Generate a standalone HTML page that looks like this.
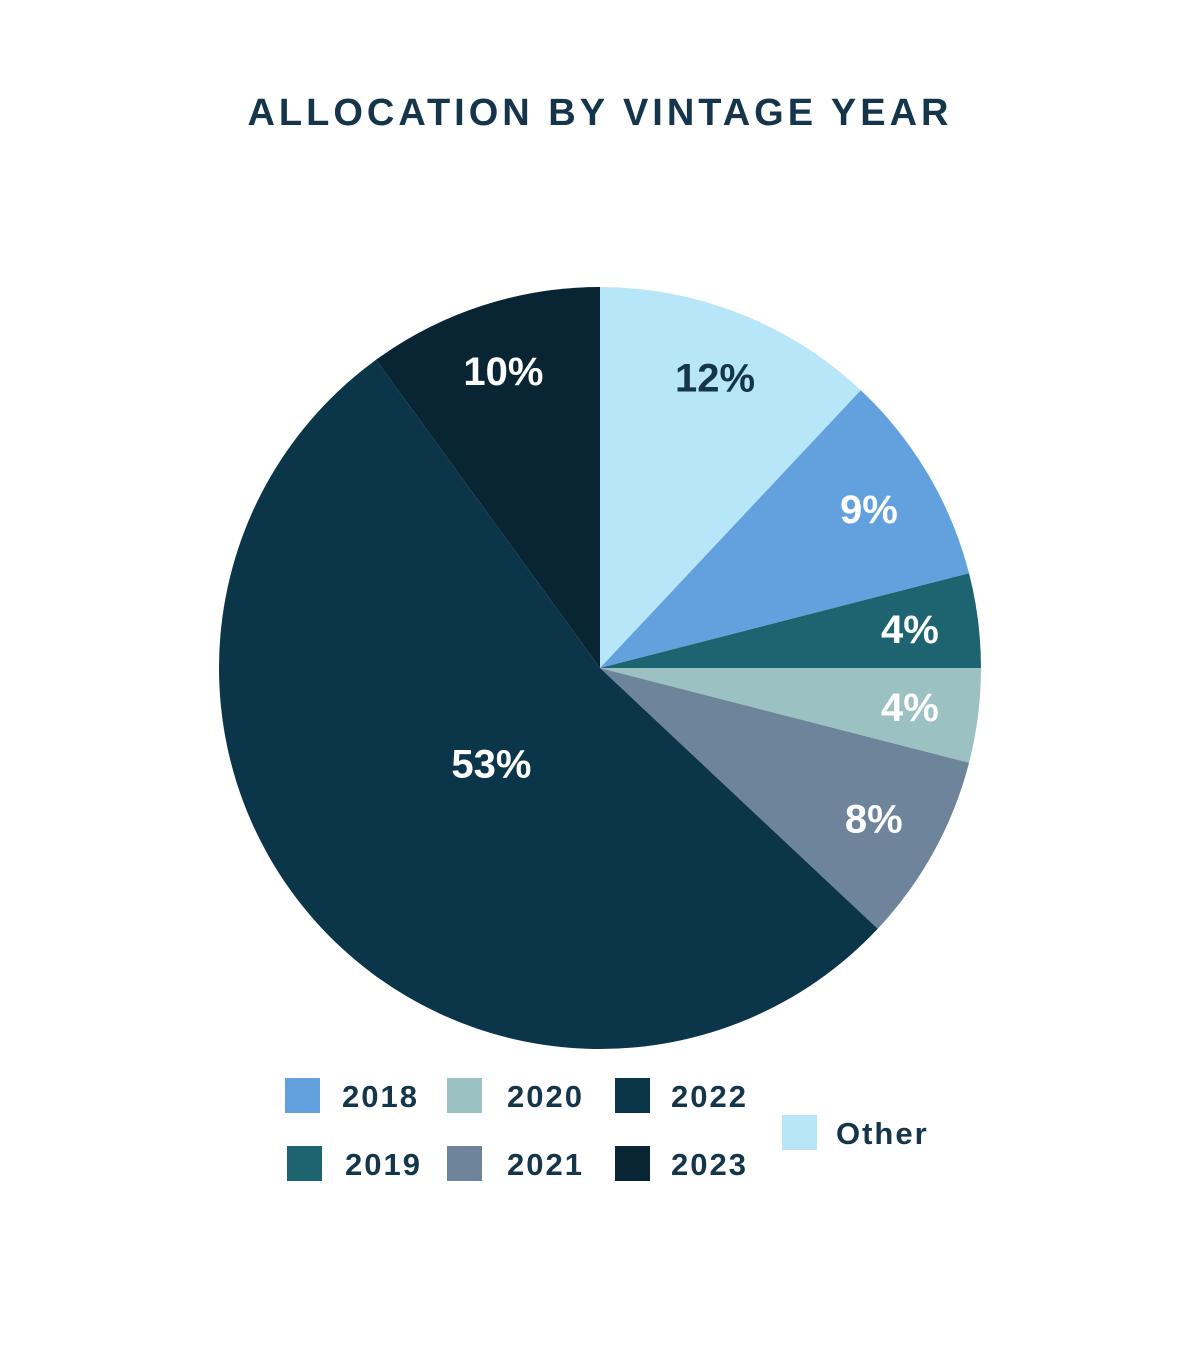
<!DOCTYPE html>
<html><head><meta charset="utf-8">
<style>
html,body{margin:0;padding:0;background:#fff;}
body{width:1200px;height:1350px;position:relative;overflow:hidden;font-family:"Liberation Sans",sans-serif;}
#title{position:absolute;left:0;top:92px;width:1200px;text-align:center;font-size:38px;font-weight:bold;letter-spacing:4px;color:#14354a;}
svg{position:absolute;left:0;top:0;}
</style></head>
<body>
<div id="title">ALLOCATION BY VINTAGE YEAR</div>
<svg id="chart" width="1200" height="1350"></svg>
<script>
const categories = ["Other","2018","2019","2020","2021","2022","2023"];
const values = [12, 9, 4, 4, 8, 53, 10];
const labels = ["12%","9%","4%","4%","8%","53%","10%"];
const colors = ["#b8e6f9","#62a1de","#1d6470","#9bc1c2","#6e849b","#0b364a","#092533"];
const labelColors = ["#14354a","#fff","#fff","#fff","#fff","#fff","#fff"];
const legendOrder = ["2018","2019","2020","2021","2022","2023","Other"];

const NS="http://www.w3.org/2000/svg";
const svg=document.getElementById('chart');
const cx=600, cy=668, R=381;
const total=values.reduce((a,b)=>a+b,0);
function pt(frac,r){const a=frac*2*Math.PI;return [cx+r*Math.sin(a), cy-r*Math.cos(a)];}
let acc=0;
values.forEach((v,i)=>{
  const s=acc/total, e=(acc+v)/total; acc+=v;
  const [x1,y1]=pt(s,R),[x2,y2]=pt(e,R);
  const large=(e-s)>0.5?1:0;
  const p=document.createElementNS(NS,'path');
  p.setAttribute('d',`M${cx},${cy} L${x1},${y1} A${R},${R} 0 ${large} 1 ${x2},${y2} Z`);
  p.setAttribute('fill',colors[i]);
  
  
  svg.appendChild(p);
  const m=(s+e)/2;
  const rr=(v/total)>0.4?R*0.38:R*0.82;
  const [lx,ly]=pt(m,rr);
  const t=document.createElementNS(NS,'text');
  t.setAttribute('x',lx);t.setAttribute('y',ly+14);
  t.setAttribute('text-anchor','middle');
  t.setAttribute('font-size','40');t.setAttribute('font-weight','bold');
  t.setAttribute('font-family','Liberation Sans, sans-serif');
  t.setAttribute('fill',labelColors[i]);
  t.textContent=labels[i];
  
  
  svg.appendChild(t);
});
// legend: 3 columns of 2, plus Other
const colX=[285,447,615], rowY=[1078,1146];
legendOrder.forEach((name,k)=>{
  const i=categories.indexOf(name);
  let sx,sy,tx;
  if(name==="Other"){sx=782;sy=1115;tx=836;}
  else{const c=Math.floor(k/2), r=k%2; sx=colX[c]+(c===0&&r===1?2:0); sy=rowY[r]; tx=sx+(c===0?57:c===1?60:56)+(c===0&&r===1?1:0);}
  const g=document.createElementNS(NS,'g');
  
  
  const rect=document.createElementNS(NS,'rect');
  rect.setAttribute('x',sx);rect.setAttribute('y',sy);rect.setAttribute('width',35);rect.setAttribute('height',35);
  rect.setAttribute('fill',colors[i]);
  
  
  g.appendChild(rect);
  const t=document.createElementNS(NS,'text');
  t.setAttribute('x',tx);t.setAttribute('y',sy+29);
  t.setAttribute('font-size','31');t.setAttribute('font-weight','bold');
  t.setAttribute('letter-spacing','2');
  t.setAttribute('font-family','Liberation Sans, sans-serif');
  t.setAttribute('fill','#14354a');
  t.textContent=name;
  
  
  g.appendChild(t);
  svg.appendChild(g);
});
</script>
</body></html>
